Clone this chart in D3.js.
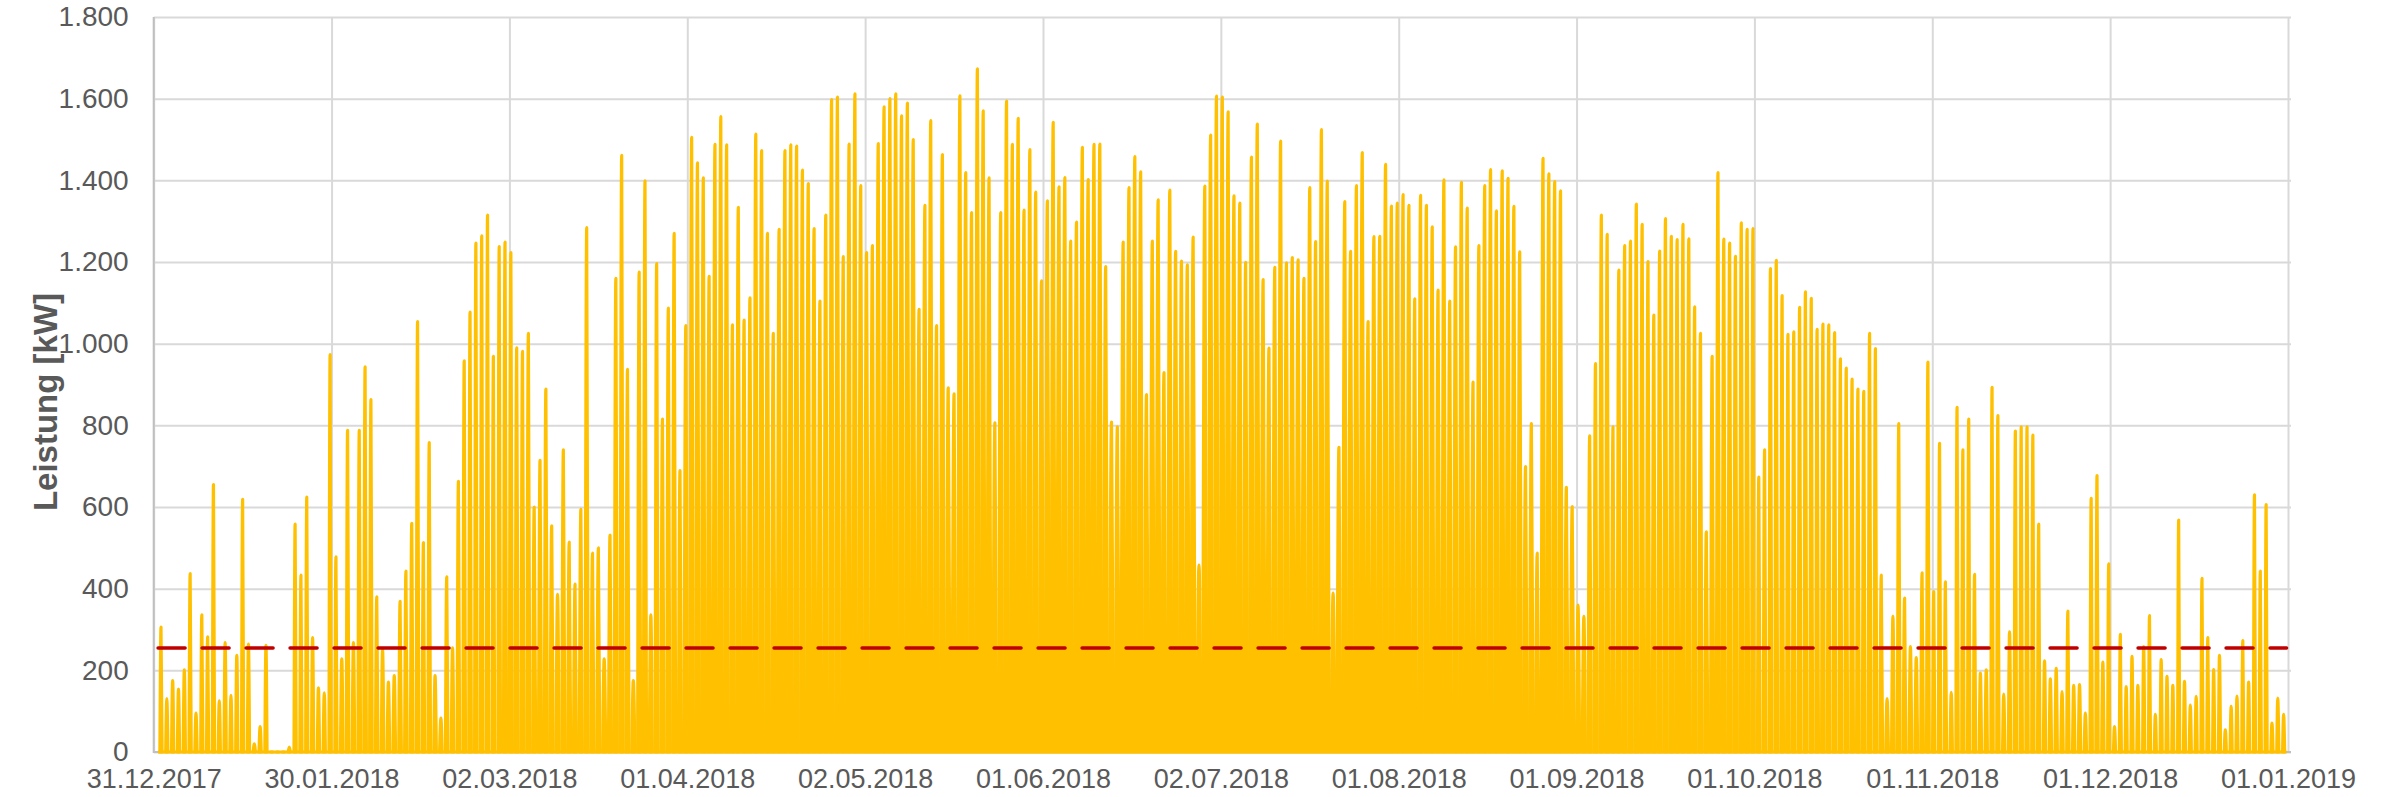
<!DOCTYPE html>
<html><head><meta charset="utf-8">
<script src="https://cdn.jsdelivr.net/npm/d3@7"></script>
<style>
body{margin:0;background:#fff}
svg{display:block;background:#fff}
text{font-family:"Liberation Sans",Arial,sans-serif;fill:#595959}
</style>
</head><body>
<svg id="chart" width="2387" height="797"></svg>
<script>
// ---------- data ----------
const firstDay = "2018-01-01";
// daily peak power in kW, 01.01.2018 ... 31.12.2018
const dailyPeakKW = [
306,131,175,154,201,437,95,336,282,655,125,268,139,237,619,264,20,62,261,0,
0,0,12,558,433,624,280,157,145,973,478,228,788,268,788,943,863,380,250,171,
187,369,443,560,1054,513,758,187,83,429,255,663,958,1077,1246,1264,1315,969,1238,1249,
1223,990,981,1025,600,714,889,554,386,740,514,411,594,1284,487,500,228,531,1160,1461,
937,175,1175,1399,336,1196,815,1087,1270,689,1044,1505,1443,1406,1165,1488,1556,1487,1046,1334,
1058,1112,1513,1473,1270,1025,1280,1473,1487,1484,1425,1392,1282,1104,1315,1598,1604,1213,1489,1612,
1387,1223,1240,1490,1580,1600,1612,1558,1589,1500,1084,1339,1546,1044,1463,892,877,1607,1419,1321,
1673,1570,1406,806,1321,1594,1488,1552,1327,1475,1371,1154,1350,1542,1384,1407,1251,1298,1481,1402,
1488,1489,1189,808,796,1249,1382,1458,1421,875,1251,1352,929,1376,1226,1202,1193,1261,458,1386,
1511,1606,1604,1568,1362,1344,1199,1457,1538,1157,989,1187,1496,1198,1211,1205,1160,1382,1250,1524,
1398,389,746,1348,1226,1387,1468,1054,1262,1263,1439,1337,1344,1365,1339,1110,1363,1339,1286,1131,
1401,1104,1237,1395,1332,906,1240,1387,1426,1325,1423,1405,1336,1225,699,804,487,1454,1416,1397,
1374,648,601,360,332,774,951,1315,1268,796,1180,1240,1251,1342,1292,1201,1070,1227,1306,1263,
1255,1292,1257,1090,1025,539,969,1419,1256,1246,1214,1296,1280,1282,673,740,1184,1204,1118,1023,
1029,1089,1127,1111,1035,1048,1046,1027,963,940,913,889,883,1025,988,433,131,332,804,377,
258,231,439,955,393,756,417,146,844,740,815,435,193,201,893,824,142,294,786,796,
796,776,558,223,179,205,148,345,163,165,95,621,677,220,461,62,288,160,234,163,
258,334,92,226,185,163,568,173,115,136,425,280,202,237,54,112,137,273,171,630,
443,606,71,132,92
];
// approximate production hours per day, by month (shape of each daily hump)
const daylightHoursByMonth = [9,10.5,12.5,14.5,16,17,16.5,15,13,11,9.5,8.5];
const referenceLineKW = 255;
const xTickLabels = ["31.12.2017","30.01.2018","02.03.2018","01.04.2018","02.05.2018","01.06.2018",
  "02.07.2018","01.08.2018","01.09.2018","01.10.2018","01.11.2018","01.12.2018","01.01.2019"];
const yTickValues = [0,200,400,600,800,1000,1200,1400,1600,1800];
const yAxisTitle = "Leistung [kW]";

// ---------- layout ----------
const plotLeft = 153.7, plotRight = 2288, plotTop = 17, plotBottom = 752, gridRight = 2291;
const yellow = "#FFC000", red = "#C00000";

const xStart = new Date(Date.UTC(2017,11,31,6));
const xEnd = new Date(Date.UTC(2019,0,1,6));
const x = d3.scaleUtc().domain([xStart, xEnd]).range([plotLeft, plotRight]);
const y = d3.scaleLinear().domain([0,1800]).range([plotBottom, plotTop]);

const svg = d3.select("#chart");
const de = d3.formatLocale({decimal:",", thousands:".", grouping:[3], currency:["","€"]});
const fmt = de.format(",d");

const n = xTickLabels.length;
const tickDates = d3.range(n).map(i => new Date(+xStart + i*(xEnd - xStart)/(n-1)));

// horizontal grid + y labels
const gy = svg.append("g").attr("transform", `translate(${plotLeft},0)`)
  .call(d3.axisLeft(y).tickValues(yTickValues).tickFormat(fmt)
        .tickSize(-(gridRight - plotLeft)).tickPadding(25));
gy.select(".domain").remove();
gy.selectAll(".tick line").attr("stroke", "#D9D9D9").attr("stroke-width", 2);
gy.selectAll(".tick text").attr("font-size", 28).attr("fill", "#595959")
  .style("font-family", '"Liberation Sans", Arial, sans-serif');

// vertical grid + x labels
const gx = svg.append("g").attr("transform", `translate(0,${plotBottom})`)
  .call(d3.axisBottom(x).tickValues(tickDates).tickFormat((d,i) => xTickLabels[i])
        .tickSize(-(plotBottom - plotTop)).tickPadding(17));
gx.select(".domain").remove();
gx.selectAll(".tick line").attr("stroke", "#D9D9D9").attr("stroke-width", 2);
gx.selectAll(".tick text").attr("font-size", 27).attr("fill", "#595959")
  .style("font-family", '"Liberation Sans", Arial, sans-serif');

// axis lines
svg.append("line").attr("x1", plotLeft).attr("x2", plotLeft).attr("y1", plotTop).attr("y2", plotBottom + 1)
  .attr("stroke", "#BFBFBF").attr("stroke-width", 2);
svg.append("line").attr("x1", plotLeft).attr("x2", gridRight).attr("y1", plotBottom).attr("y2", plotBottom)
  .attr("stroke", "#BFBFBF").attr("stroke-width", 2);

// ---------- series ----------
const day0 = d3.utcParse("%Y-%m-%d")(firstDay);
const days = dailyPeakKW.map((v, i) => {
  const noon = d3.utcHour.offset(d3.utcDay.offset(day0, i), 12);
  const hw = daylightHoursByMonth[noon.getUTCMonth()] * 30; // minutes
  return [[d3.utcMinute.offset(noon, -hw), 0], [noon, v], [d3.utcMinute.offset(noon, hw), 0]];
});

const area = d3.area().x(p => x(p[0])).y0(y(0)).y1(p => y(p[1])).curve(d3.curveMonotoneX);
const line = d3.line().x(p => x(p[0])).y(p => y(p[1]));

const lastDayEnd = d3.utcDay.offset(day0, dailyPeakKW.length);
svg.append("path").attr("d", line([[day0, 0], [lastDayEnd, 0]]))
  .attr("stroke", yellow).attr("stroke-width", 3).attr("fill", "none");

svg.append("g").selectAll("path").data(days).join("path")
  .attr("d", d => area(d))
  .attr("fill", yellow).attr("stroke", yellow)
  .attr("stroke-width", 3.2).attr("stroke-linejoin", "round");

// reference line
svg.append("path").attr("d", line([[day0, referenceLineKW], [lastDayEnd, referenceLineKW]]))
  .attr("stroke", red).attr("stroke-width", 3.5).attr("fill", "none")
  .attr("stroke-dasharray", "27,17").attr("stroke-linecap", "round");

// axis title
svg.append("text").attr("transform", "translate(45,402) rotate(-90)")
  .attr("text-anchor", "middle").attr("dominant-baseline", "central")
  .attr("font-size", 33).attr("font-weight", "bold").attr("fill", "#595959")
  .text(yAxisTitle);
</script>
</body></html>
